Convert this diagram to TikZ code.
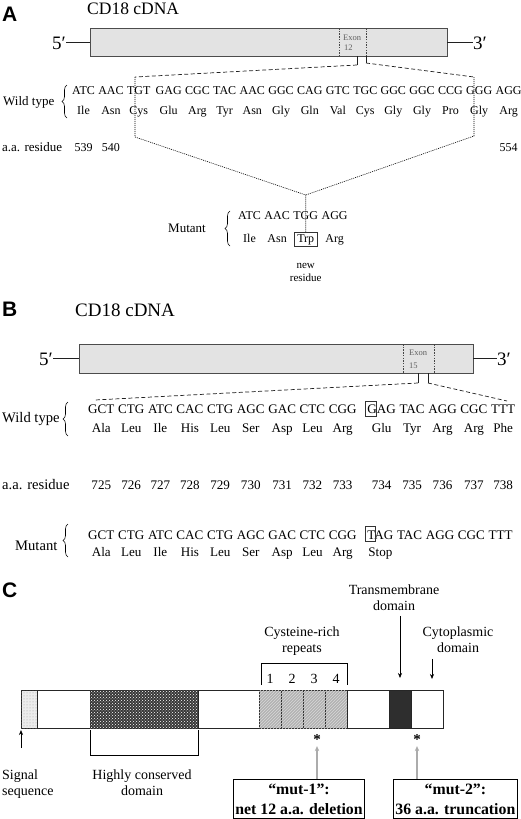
\documentclass[tikz,border=0pt]{standalone}
\usepackage{fontspec}
\setmainfont{Liberation Serif}
\newfontfamily\lettersans{Liberation Sans}
\usetikzlibrary{arrows.meta,positioning,patterns,fit,decorations.pathreplacing}

\newcommand\fs[2]{\fontsize{#1}{#2}\selectfont}

\begin{document}
\begin{tikzpicture}[x=1pt, y=-1pt, >=Stealth,
  origin/.style={inner sep=0, outer sep=0, minimum size=0},
  panel/.style={inner sep=0, anchor=base west, font=\lettersans\bfseries\fs{21}{24}},
  title/.style={inner sep=0, anchor=base west},
  cdna/.style={draw=gray!60!black, fill=gray!22, line width=0.8pt, inner sep=0, outer sep=0, anchor=north west},
  endline/.style={gray!25!black, line width=0.8pt},
  prime/.style={inner sep=0, font=\fs{19}{22}},
  exon/.style={gray!55!black, line width=0.5pt, dash pattern=on 1.5pt off 1.2pt},
  exontxt/.style={inner sep=0, anchor=base west, text=gray!75!black, font=\fs{8.5}{10}},
  tick/.style={gray!25!black, line width=0.8pt},
  zoomline/.style={gray!25!black, line width=0.7pt, dash pattern=on 4pt off 2.5pt},
  dotline/.style={line width=0.6pt, dash pattern=on 1pt off 1pt},
  seqA/.style={inner sep=0, anchor=base, font=\fs{12}{14}},
  seqB/.style={inner sep=0, anchor=base, font=\fs{13.1}{15}},
  lblA/.style={inner sep=0, font=\fs{13}{15}},
  lblB/.style={inner sep=0, font=\fs{14.6}{17}},
  lbrace/.style={decorate, decoration={brace, amplitude=5pt}, line width=0.6pt},
  basebox/.style={draw=gray!40!black, line width=0.6pt},
  dom/.style={draw=gray!30!black, line width=0.8pt, inner sep=0, outer sep=0, minimum height=38pt},
  repfill/.style={fill=gray!60, postaction={pattern=north east lines, pattern color=gray!30}},
  lblC/.style={inner sep=0, font=\fs{14}{15.5}, align=center},
  arr/.style={-{Stealth[length=5pt,width=4pt]}, line width=0.6pt},
  uparr/.style={-{Stealth[length=5pt,width=4.5pt]}, line width=1.3pt, gray!65},
  mutbox/.style={draw, line width=0.8pt, align=center, inner sep=2pt, font=\bfseries\fs{15.8}{20}, anchor=north west, minimum height=39pt}]
\useasboundingbox (0,0) rectangle (520,819);

% ---------------- A ----------------
\node[panel] (labA) at (2,21) {A};
\node[title, font=\fs{17.5}{20}] (cdnaA) at (87,14) {CD18 cDNA};
\node[cdna, minimum width=357pt, minimum height=28pt] (barA) at (90,28) {};
\node[prime, anchor=base east] (fiveA) at (66,49) {5′};
\node[prime, anchor=base west] (threeA) at (473,49) {3′};
\draw[endline] (barA.west) -- (barA.west -| fiveA.east);
\draw[endline] (barA.east) -- (barA.east -| threeA.west);
\draw[exon] (339,28) -- (339,56);
\draw[exon] (366,28) -- (366,56);
\node[exontxt] (exA) at (343,40) {Exon};
\node[exontxt] (exnA) at (344,50) {12};

\coordinate (tA1) at (357,65);
\coordinate (tA2) at (366,63);
\coordinate (zA1) at (135,77);
\coordinate (zA2) at (474,77);
\draw[tick] (tA1 |- barA.south) -- (tA1);
\draw[tick] (tA2 |- barA.south) -- (tA2);
\draw[zoomline] (tA1) -- (zA1);
\draw[zoomline] (tA2) -- (zA2);

% wild type sequence
\coordinate (aarowA) at (0,114.5);
\coordinate (resrowA) at (0,151);
\node[origin] (wa0) at (72,94) {};
\foreach \c/\a [count=\i, remember=\i as \j (initially 0)] in {ATC/Ile,AAC/Asn,TGT/Cys,GAG/Glu,CGC/Arg,TAC/Tyr,AAC/Asn,GGC/Gly,CAG/Gln,GTC/Val,TGC/Cys,GGC/Gly,GGC/Gly,CCG/Pro,GGG/Gly,AGG/Arg}{
  \pgfmathsetmacro\gap{\i==1 ? 0 : (\i==4 ? 5 : 3)}
  \node[seqA, anchor=base west] (wa\i) at ([xshift=\gap]wa\j.base east) {\c};
  \node[seqA] (waa\i) at (wa\i.base |- aarowA) {\a};
}
\node[lblA, anchor=west] (wtA) at (3,102) {Wild type};
\draw[lbrace] (67,118) -- (67,85);
\node[lblA, anchor=base west] (resA) at (2,151) {a.a. residue};
\node[seqA] (r539) at (wa1.base |- resrowA) {539};
\node[seqA] (r540) at (wa2.base |- resrowA) {540};
\node[seqA] (r554) at (wa16.base |- resrowA) {554};

% mutant sequence
\coordinate (aarowM) at (0,242);
\node[origin] (ma0) at (238,219) {};
\foreach \c [count=\i, remember=\i as \j (initially 0)] in {ATC,AAC,TGG,AGG}{
  \pgfmathsetmacro\gap{\i==1 ? 0 : 3.2}
  \node[seqA, anchor=base west] (ma\i) at ([xshift=\gap]ma\j.base east) {\c};
}
\foreach \a [count=\i] in {Ile,Asn,Trp,Arg}
  \node[seqA] (maa\i) at (ma\i.base |- aarowM) {\a};
\node[basebox, inner xsep=2.5pt, inner ysep=2pt, fit=(maa3)] (trp) {};
\node[lblA, anchor=base west] (mutA) at (168,232) {Mutant};
\draw[lbrace] (230,246) -- (230,211);
\node[seqA, font=\fs{11}{13}] (newlbl) at ([yshift=-26pt]maa3.base) {new};
\node[seqA, font=\fs{11}{13}] (reslbl) at ([yshift=-39pt]maa3.base) {residue};

\coordinate (dA1) at (135,137);
\coordinate (dA2) at (474,136);
\coordinate (apexA) at (trp.north |- 0,195);
\draw[dotline] (zA1) -- (dA1) -- (apexA) -- (trp.north);
\draw[dotline] (zA2) -- (dA2) -- (apexA);

% ---------------- B ----------------
\node[panel] (labB) at (2,316) {B};
\node[title, font=\fs{19}{22}] (cdnaB) at (75,316) {CD18 cDNA};
\node[cdna, minimum width=394pt, minimum height=29pt] (barB) at (79,344) {};
\node[prime, anchor=base east] (fiveB) at (53,365) {5′};
\node[prime, anchor=base west] (threeB) at (497,365) {3′};
\draw[endline] (barB.west) -- (barB.west -| fiveB.east);
\draw[endline] (barB.east) -- (barB.east -| threeB.west);
\draw[exon] (403,344) -- (403,373);
\draw[exon] (434,344) -- (434,373);
\node[exontxt] (exB) at (409,355) {Exon};
\node[exontxt] (exnB) at (409,368) {15};

\coordinate (tB1) at (418,383);
\coordinate (tB2) at (428,383);
\coordinate (zB1) at (95,400);
\coordinate (zB2) at (507,401);
\draw[tick] (tB1 |- barB.south) -- (tB1);
\draw[tick] (tB2 |- barB.south) -- (tB2);
\draw[zoomline] (tB1) -- (zB1);
\draw[zoomline] (tB2) -- (zB2);

% wild type sequence
\coordinate (aarowB) at (0,432);
\coordinate (resrowB) at (0,489);
\node[origin] (wb0) at (88,413) {};
\foreach \c/\a [count=\i, remember=\i as \j (initially 0)] in {GCT/Ala,CTG/Leu,ATC/Ile,CAC/His,CTG/Leu,AGC/Ser,GAC/Asp,CTC/Leu,CGG/Arg,GAG/Glu,TAC/Tyr,AGG/Arg,CGC/Arg,TTT/Phe}{
  \pgfmathsetmacro\gap{\i==1 ? 0 : (\i==10 ? 10.5 : 3.3)}
  \node[seqB, anchor=base west] (wb\i) at ([xshift=\gap]wb\j.base east) {\c};
  \node[seqB] (wba\i) at (wb\i.base |- aarowB) {\a};
  \pgfmathtruncatemacro\res{724+\i}
  \node[seqB] (rb\i) at (wb\i.base |- resrowB) {\res};
}
\draw[basebox] ([shift={(-1.5pt,-3pt)}]wb10.base west) rectangle ([shift={(9.5pt,11.5pt)}]wb10.base west);
\node[lblB, anchor=west] (wtB) at (2,419) {Wild type};
\draw[lbrace] (68,436) -- (68,402);
\node[lblB, anchor=base west] (resB) at (2,489) {a.a. residue};

% mutant sequence
\coordinate (aarowMB) at (0,556);
\node[origin] (mb0) at (88,539) {};
\foreach \c [count=\i, remember=\i as \j (initially 0)] in {GCT,CTG,ATC,CAC,CTG,AGC,GAC,CTC,CGG,TAG,TAC,AGG,CGC,TTT}{
  \pgfmathsetmacro\gap{\i==1 ? 0 : (\i==10 ? 10.5 : 3.3)}
  \node[seqB, anchor=base west] (mb\i) at ([xshift=\gap]mb\j.base east) {\c};
}
\foreach \a [count=\i] in {Ala,Leu,Ile,His,Leu,Ser,Asp,Leu,Arg,Stop}
  \node[seqB] (mba\i) at (mb\i.base |- aarowMB) {\a};
\draw[basebox] ([shift={(-1.5pt,-2.5pt)}]mb10.base west) rectangle ([shift={(8.5pt,12.5pt)}]mb10.base west);
\node[lblB, anchor=west] (mutB) at (15,546) {Mutant};
\draw[lbrace] (68,557) -- (68,524);

% ---------------- C ----------------
\node[panel] (labC) at (2,597) {C};
\node[dom, minimum width=16pt, anchor=north west, fill=gray!15, postaction={pattern=dots, pattern color=gray!75}] (sig) at (21,690) {};
\node[dom, minimum width=53pt, right=0pt of sig] (gap1) {};
\node[dom, minimum width=108pt, right=0pt of gap1, fill=black!78, postaction={pattern=crosshatch dots, pattern color=white}] (hcd) {};
\node[dom, minimum width=61pt, right=0pt of hcd, alias=rep0] (gap2) {};
\foreach \i [remember=\i as \j (initially 0)] in {1,...,4}{
  \node[dom, minimum width=22pt, right=0pt of rep\j, repfill] (rep\i) {};
  \node[lblC, anchor=base] (num\i) at ([yshift=7pt]rep\i.north) {\i};
}
\node[dom, minimum width=42pt, right=0pt of rep4] (gap3) {};
\node[dom, minimum width=22pt, right=0pt of gap3, fill=black!82] (tm) {};
\node[dom, minimum width=32pt, right=0pt of tm] (cyto) {};

\draw[line width=0.7pt] ([shift={(2pt,5pt)}]rep1.north west) |- ([yshift=27pt]rep4.north east) -- ([yshift=5pt]rep4.north east);
\node[lblC, anchor=north] (cyslbl) at (302,627) {Cysteine-rich\\repeats};
\node[lblC, anchor=north] (tmlbl) at (394,585) {Transmembrane\\domain};
\node[lblC, anchor=north] (cytolbl) at (458,627) {Cytoplasmic\\domain};
\draw[arr, shorten <=5pt] (tmlbl.south -| tm.north) -- ([yshift=12pt]tm.north);
\draw[arr, shorten <=6pt] (cytolbl.south -| 432,0) -- ([yshift=11pt]cyto.north -| 432,0);

\draw[line width=0.7pt] ([yshift=-2pt]hcd.south west) |- ([yshift=-27pt]hcd.south east) -- ([yshift=-2pt]hcd.south east);
\draw[arr] ([yshift=-20pt]sig.south west) -- ([yshift=-2pt]sig.south west);
\node[lblC, align=left, anchor=north west] (siglbl) at (2,770) {Signal\\sequence};
\node[lblC, anchor=north] (hclbl) at (142,770) {Highly conserved\\domain};

\node[inner sep=0, font=\bfseries\fs{15}{16}] (star1) at (317,740) {*};
\node[inner sep=0, font=\bfseries\fs{15}{16}] (star2) at (417,740) {*};
\node[mutbox, minimum width=130pt] (mut1) at (233,779) {“mut-1”:\\net 12 a.a. deletion};
\node[mutbox, minimum width=124pt] (mut2) at (393,779) {“mut-2”:\\36 a.a. truncation};
\draw[uparr] (mut1.north -| star1) -- ([yshift=-1pt]star1.south);
\draw[uparr] (mut2.north -| star2) -- ([yshift=-1pt]star2.south);
\end{tikzpicture}
\end{document}
